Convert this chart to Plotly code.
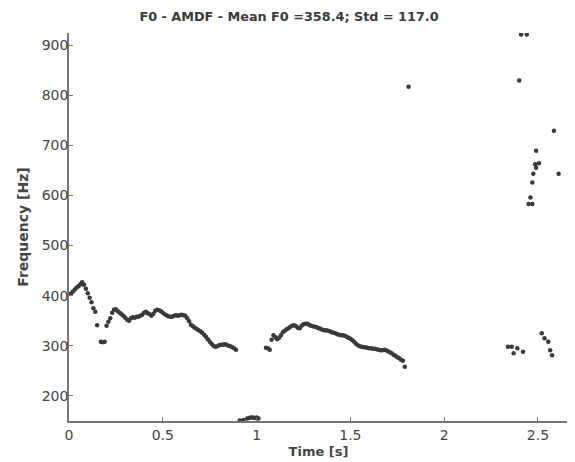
import plotly.graph_objects as go

# F0 contour, voiced segment 1 (time in s, F0 in Hz)
t_seg1 = [0.01, 0.02, 0.03, 0.04, 0.05, 0.06, 0.07, 0.08, 0.09, 0.10, 0.11, 0.12, 0.13, 0.14,
          0.15, 0.17, 0.18, 0.19,
          0.20, 0.21, 0.22, 0.23, 0.24, 0.25, 0.26, 0.27, 0.28, 0.29, 0.30, 0.31, 0.32, 0.33,
          0.34, 0.35, 0.36, 0.37, 0.38, 0.39, 0.40, 0.41, 0.42, 0.43, 0.44, 0.45, 0.46, 0.47,
          0.48, 0.49, 0.50, 0.51, 0.52, 0.53, 0.54, 0.55, 0.56, 0.57, 0.58, 0.59, 0.60, 0.61,
          0.62, 0.63, 0.64, 0.65, 0.66, 0.67, 0.68, 0.69, 0.70, 0.71, 0.72, 0.73, 0.74, 0.75,
          0.76, 0.77, 0.78, 0.79, 0.80, 0.81, 0.82, 0.83, 0.84, 0.85, 0.86, 0.87, 0.88, 0.89]
f_seg1 = [404, 408, 412, 416, 419, 423, 427, 422, 414, 405, 396, 387, 375, 368,
          341, 308, 307, 308,
          340, 348, 355, 366, 372, 373, 369, 366, 363, 360, 356, 352, 350, 355,
          357, 356, 358, 358, 360, 362, 366, 368, 365, 363, 360, 364, 370, 372,
          371, 369, 366, 363, 361, 359, 358, 358, 360, 361, 360, 361, 362, 361,
          360, 355, 349, 342, 339, 336, 334, 331, 329, 326, 322, 318, 313, 308,
          304, 300, 298, 299, 301, 302, 302, 303, 302, 300, 299, 297, 295, 292]

# Low-frequency errors near 1 s
t_low = [0.91, 0.93, 0.95, 0.96, 0.97, 0.98, 0.99, 1.00, 1.01]
f_low = [151, 152, 155, 156, 157, 157, 156, 157, 155]

# F0 contour, voiced segment 2
t_seg2 = [1.05, 1.06, 1.07, 1.08, 1.09, 1.10, 1.11, 1.12, 1.13, 1.14, 1.15, 1.16, 1.17, 1.18,
          1.19, 1.20, 1.21, 1.22, 1.23, 1.24, 1.25, 1.26, 1.27, 1.28, 1.29, 1.30, 1.31, 1.32,
          1.33, 1.34, 1.35, 1.36, 1.37, 1.38, 1.39, 1.40, 1.41, 1.42, 1.43, 1.44, 1.45, 1.46,
          1.47, 1.48, 1.49, 1.50, 1.51, 1.52, 1.53, 1.54, 1.55, 1.56, 1.57, 1.58, 1.59, 1.60,
          1.61, 1.62, 1.63, 1.64, 1.65, 1.66, 1.67, 1.68, 1.69, 1.70, 1.71, 1.72, 1.73, 1.74,
          1.75, 1.76, 1.77, 1.78, 1.79]
f_seg2 = [296, 295, 292, 312, 321, 317, 313, 316, 321, 327, 330, 333, 335, 338,
          340, 341, 339, 336, 335, 340, 343, 344, 344, 342, 340, 339, 338, 337,
          335, 334, 332, 331, 331, 330, 329, 327, 326, 325, 323, 322, 321, 321,
          320, 318, 316, 314, 311, 308, 304, 301, 299, 298, 297, 297, 296, 295,
          295, 294, 294, 293, 292, 291, 291, 292, 291, 289, 287, 285, 282, 280,
          277, 275, 272, 270, 258]

# Scattered estimates at the end
t_tail = [1.81, 2.34, 2.36, 2.37, 2.39, 2.40, 2.42, 2.41, 2.44, 2.45, 2.46, 2.47, 2.47, 2.475,
          2.49, 2.485, 2.505, 2.49, 2.52, 2.535, 2.555, 2.565, 2.575, 2.585, 2.61]
f_tail = [817, 298, 298, 285, 295, 829, 288, 921, 921, 583, 596, 583, 626, 643,
          655, 662, 664, 689, 325, 315, 308, 291, 281, 729, 643]

time_s = t_seg1 + t_low + t_seg2 + t_tail
f0_hz = f_seg1 + f_low + f_seg2 + f_tail

title_text = "F0 - AMDF - Mean F0 =358.4; Std = 117.0"
x_ticks = [0, 0.5, 1, 1.5, 2, 2.5]
x_tick_labels = ["0", "0.5", "1", "1.5", "2", "2.5"]
y_ticks = [200, 300, 400, 500, 600, 700, 800, 900]

fig = go.Figure()
fig.add_trace(go.Scatter(
    x=time_s, y=f0_hz, mode="markers",
    marker=dict(symbol="circle", size=4.5, color="#3a3a3a", line=dict(width=0)),
    showlegend=False,
))

# the page body has an 8px default margin, so the figure is 8px smaller
W, H = 567, 454
font_main = "DejaVu Sans, Arial, sans-serif"
fig.update_layout(
    width=W, height=H,
    margin=dict(l=61, r=7, t=25, b=41),
    paper_bgcolor="white", plot_bgcolor="white",
    font=dict(family=font_main, color="#444444", size=13),
    title=dict(text="<b>" + title_text + "</b>", x=281 / W, xanchor="center", xref="container",
               y=1 - 9 / H, yanchor="middle",
               font=dict(size=12.8, color="#3a3a3a", family=font_main)),
)
fig.update_xaxes(
    range=[0, 2.66], tickvals=x_ticks, ticktext=x_tick_labels, automargin=False,
    showgrid=False, zeroline=False, showline=True, linecolor="#777777", linewidth=1.5,
    ticks="inside", ticklen=4, tickcolor="#777777",
    tickfont=dict(size=14, color="#444444"),
    title=dict(text="<b>Time [s]</b>", standoff=5, font=dict(size=13, color="#444444")),
)
fig.update_yaxes(
    range=[150, 924], tickvals=y_ticks, automargin=False, ticklabelstandoff=-4,
    showgrid=False, zeroline=False, showline=True, linecolor="#777777", linewidth=1.5,
    ticks="inside", ticklen=4, tickcolor="#777777",
    tickfont=dict(size=14, color="#444444"),
    title=dict(text="<b>Frequency [Hz]</b>", standoff=10, font=dict(size=14, color="#444444")),
)

fig.write_html("out.html")
